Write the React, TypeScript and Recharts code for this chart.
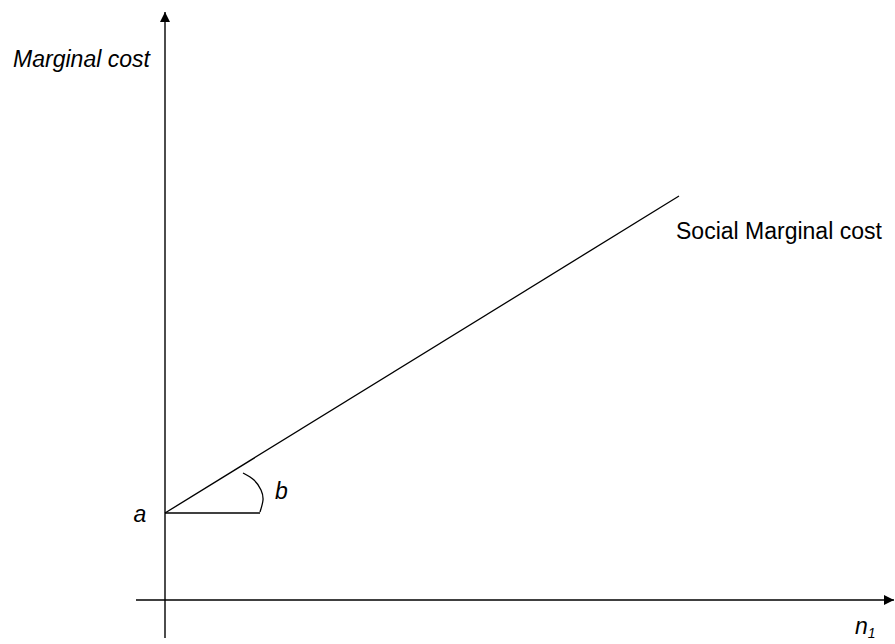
import { ComposedChart, Line, Scatter, XAxis, YAxis } from "recharts";

// all values in diagram units (origin where the axes cross)
const axisXPoints = [
  { x: -2.9, y: 0 },
  { x: 72.9, y: 0 },
];
const axisYPoints = [
  { x: 0, y: -3.8 },
  { x: 0, y: 58.8 },
];
const arrowTips = [
  { x: 72.9, y: 0, dir: "right" },
  { x: 0, y: 58.8, dir: "up" },
];
const socialMarginalCost = [
  { x: 0, y: 8.7 },
  { x: 51.4, y: 40.4 },
];
const interceptBase = [
  { x: 0, y: 8.7 },
  { x: 9.5, y: 8.7 },
];
const angleArc = [
  { x: 7.8, y: 12.7 },
  { x: 8.9, y: 12.0 },
  { x: 9.6, y: 11.0 },
  { x: 9.8, y: 10.0 },
  { x: 9.5, y: 8.8 },
];
const textLabels = [
  { x: -8.35, y: 53.3, text: "Marginal cost", italic: true, anchor: "middle" },
  { x: 51.1, y: 36.1, text: "Social Marginal cost", italic: false, anchor: "start" },
  { x: -2.5, y: 7.8, text: "a", italic: true, anchor: "middle" },
  { x: 11.65, y: 10.1, text: "b", italic: true, anchor: "middle" },
  { x: 69.0, y: -3.4, text: "n", sub: "1", italic: true, anchor: "start" },
];

const FONT = '"Liberation Sans", Arial, sans-serif';

function ArrowHead(props: any) {
  const { cx, cy, payload } = props;
  if (payload.dir === "right") {
    return <path d={`M${cx},${cy} L${cx - 10},${cy - 5} L${cx - 10},${cy + 5} Z`} fill="#000" />;
  }
  return <path d={`M${cx},${cy} L${cx - 5},${cy + 10} L${cx + 5},${cy + 10} Z`} fill="#000" />;
}

function TextMark(props: any) {
  const { cx, cy, payload } = props;
  return (
    <text
      x={cx}
      y={cy}
      textAnchor={payload.anchor}
      fontFamily={FONT}
      fontSize={23}
      fontStyle={payload.italic ? "italic" : "normal"}
      fill="#000"
    >
      {payload.text}
      {payload.sub && (
        <tspan fontSize={14} dy={4}>
          {payload.sub}
        </tspan>
      )}
    </text>
  );
}

export default function App() {
  return (
    <div style={{ position: "absolute", left: 0, top: 0, background: "#fff" }}>
      <ComposedChart width={895} height={644} margin={{ top: 0, right: 0, bottom: 0, left: 0 }}>
        <XAxis type="number" dataKey="x" domain={[-16.5, 73]} hide allowDataOverflow />
        <YAxis type="number" dataKey="y" domain={[-4.4, 60]} hide allowDataOverflow />
        <Line data={axisXPoints} dataKey="y" stroke="#000" strokeWidth={1.4} dot={false} isAnimationActive={false} />
        <Line data={axisYPoints} dataKey="y" stroke="#000" strokeWidth={1.4} dot={false} isAnimationActive={false} />
        <Line data={socialMarginalCost} dataKey="y" stroke="#000" strokeWidth={1.3} dot={false} isAnimationActive={false} />
        <Line data={interceptBase} dataKey="y" stroke="#000" strokeWidth={1.3} dot={false} isAnimationActive={false} />
        <Line
          data={angleArc}
          dataKey="y"
          type="natural"
          stroke="#000"
          strokeWidth={1.3}
          dot={false}
          isAnimationActive={false}
        />
        <Scatter data={arrowTips} dataKey="y" shape={ArrowHead} isAnimationActive={false} />
        <Scatter data={textLabels} dataKey="y" shape={TextMark} isAnimationActive={false} />
      </ComposedChart>
    </div>
  );
}
